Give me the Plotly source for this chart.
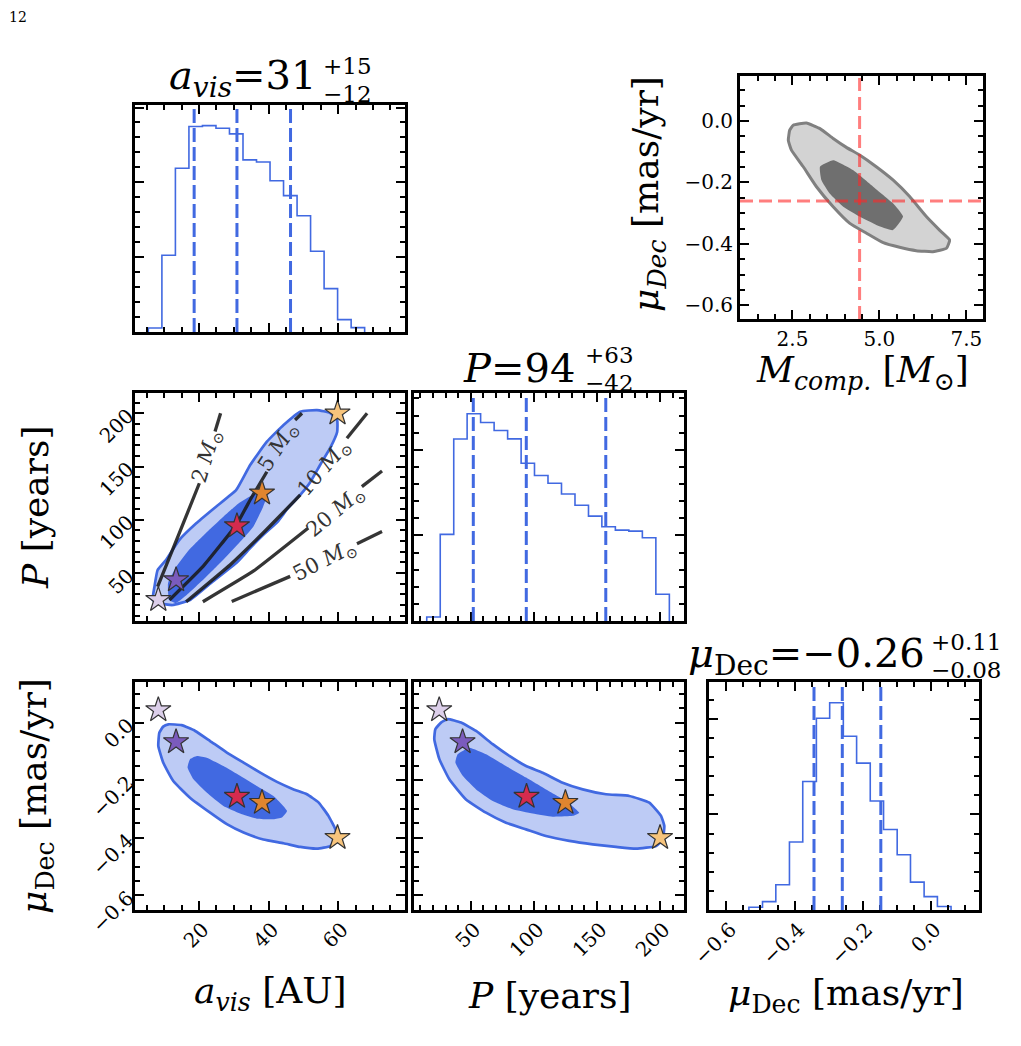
import plotly.graph_objects as go

W, H = 1021, 1046
FONT = "DejaVu Serif"
BLUE = "#4169e1"

# ---------------- data ----------------
# a_vis histogram (bin edges in AU, counts)
a_edges = [5.44, 9.33, 13.21, 17.10, 20.98, 24.87, 28.75, 32.64, 36.52, 40.41,
           44.29, 48.18, 52.06, 55.95, 59.83, 63.72, 67.60]
a_counts = [27, 513, 1094, 1373, 1379, 1362, 1324, 1150, 1136, 1011, 911, 777,
            540, 290, 83, 29]
a_quant = [18.6, 30.9, 46.3]

# P histogram (years)
P_edges = [15.1, 25.8, 36.5, 47.1, 57.8, 68.5, 79.2, 89.9, 100.5, 111.2, 121.9,
           132.6, 143.3, 153.9, 164.6, 175.3, 186.0, 196.7, 207.4]
P_counts = [23, 506, 1063, 1211, 1160, 1113, 1064, 922, 850, 805, 742, 676, 613,
            551, 531, 525, 486, 156]
P_quant = [52, 94, 157]

# mu_Dec histogram (mas/yr)
mu_edges = [-0.534, -0.494, -0.455, -0.415, -0.376, -0.336, -0.297, -0.257,
            -0.218, -0.178, -0.139, -0.099, -0.060, -0.020, 0.019, 0.059]
mu_counts = [14, 44, 132, 356, 672, 1003, 1084, 909, 768, 570, 421, 289, 146,
             70, 18]
mu_quant = [-0.343, -0.26, -0.147]

# highlighted solutions (stars)
star_a = [8.3, 13.4, 30.9, 38.1, 59.8]
star_P = [25, 43.5, 94.2, 125, 200]
star_mu = [0.044, -0.067, -0.257, -0.278, -0.400]
star_colors = ["#dccfea", "#7b5bbd", "#d42b4e", "#e0852f", "#f7c47c"]

# a_vis vs P contours
ml_out_a = [6.7, 7.2, 8.1, 10.5, 14.3, 19.2, 24.9, 30.7, 34.7, 39.5, 44.3, 49.1,
            53.9, 57.7, 59.7, 59.7, 57.7, 54.8, 52.0, 49.1, 45.6, 42.5, 38.4,
            34.7, 31.0, 23.8, 17.4, 12.4, 8.6]
ml_out_P = [24.7, 37.2, 52.9, 62.3, 81.0, 96.7, 112.3, 128.0, 151.4, 173.3,
            189.0, 201.5, 203.0, 200.2, 193.7, 182.4, 167.4, 151.4, 135.5, 123.3,
            111.1, 97.9, 85.7, 73.5, 60.4, 41.6, 24.7, 20.0, 21.6]
ml_in_a = [11.4, 11.1, 13.4, 17.1, 22.0, 26.9, 31.5, 36.4, 38.4, 39.6, 38.4,
           35.6, 31.5, 26.9, 22.0, 17.1, 13.4]
ml_in_P = [24.7, 40.7, 55.7, 71.6, 87.6, 102.6, 115.8, 125.2, 128.9, 123.3,
           112.0, 93.5, 78.2, 62.3, 46.3, 31.3, 21.9]

# mass curves in the a_vis-P plane (None = gap left for the label)
m2_a = [8.1, 14.1, 20.1, None, 24.6, 26.2]
m2_P = [37.2, 85.5, 134.3, None, 182.8, 200]
m5_a = [11.5, 21.1, 30.7, 35.0, 39.5, None, 47.6, 49.6]
m5_P = [24.7, 56.0, 95.1, 120.4, 145.1, None, 193.7, 200]
m10_a = [16.3, 28.9, 39.0, 49.1, None, 62.5, 68.3]
m10_P = [23.1, 57.6, 89.5, 123.3, None, 176.5, 200]
m20_a = [21.1, 35.7, 51.4, None, 66.8, 72.6]
m20_P = [23.1, 52.0, 92.3, None, 131.1, 145.8]
m50_a = [29.4, 46.2, None, 65.4, 72.6]
m50_P = [23.4, 46.9, None, 77.5, 89]
mass_labels = ["2", "5", "10", "20", "50"]
mass_lab_a = [22.2, 42.8, 56.1, 59.2, 56.0]
mass_lab_P = [159.2, 168.6, 148.3, 107.6, 61.6]
mass_lab_angle = [-73, -57, -49, -40, -27]

# a_vis vs mu_Dec contours
bl_out_a = [11.2, 15.0, 18.9, 23.2, 28.0, 32.8, 37.6, 42.4, 47.2, 51.0, 54.4,
            57.2, 59.2, 59.6, 57.7, 53.9, 49.1, 44.3, 38.5, 32.8, 28.0, 23.2,
            17.4, 12.6, 9.7, 8.3, 8.6, 9.7]
bl_out_mu = [-0.006, -0.009, -0.029, -0.064, -0.104, -0.139, -0.174, -0.206,
             -0.232, -0.249, -0.278, -0.324, -0.371, -0.400, -0.429, -0.438,
             -0.432, -0.419, -0.406, -0.382, -0.353, -0.313, -0.261, -0.203,
             -0.139, -0.081, -0.035, -0.014]
bl_in_a = [19.4, 22.2, 27.0, 31.8, 36.6, 41.4, 45.3, 43.8, 41.4, 36.6, 31.8,
           27.0, 22.2, 18.4, 16.7, 17.4]
bl_in_mu = [-0.116, -0.122, -0.151, -0.185, -0.220, -0.255, -0.307, -0.330,
            -0.336, -0.334, -0.316, -0.290, -0.243, -0.197, -0.156, -0.127]

# P vs mu_Dec contours
bm_out_P = [31.7, 42.3, 54.2, 67.4, 80.6, 93.8, 107.0, 122.8, 138.7, 157.2,
            175.7, 191.5, 200.8, 203.4, 202.1, 196.8, 180.9, 165.1, 146.6,
            128.1, 109.6, 93.8, 77.9, 62.1, 46.2, 33.0, 25.1, 21.1, 21.9, 26.4]
bm_out_mu = [0.012, 0.0, -0.029, -0.075, -0.116, -0.151, -0.174, -0.209, -0.232,
             -0.249, -0.255, -0.278, -0.324, -0.359, -0.406, -0.429, -0.438,
             -0.432, -0.423, -0.411, -0.394, -0.371, -0.348, -0.313, -0.267,
             -0.197, -0.127, -0.058, -0.023, 0.0]
bm_in_P = [39.6, 48.9, 62.1, 77.9, 93.8, 109.6, 125.5, 136.0, 130.8, 114.9,
           99.1, 83.2, 67.4, 54.2, 43.6, 37.8]
bm_in_mu = [-0.110, -0.087, -0.110, -0.151, -0.191, -0.232, -0.272, -0.313,
            -0.324, -0.327, -0.316, -0.301, -0.272, -0.232, -0.185, -0.139]

# companion mass vs mu_Dec contours (inset)
tr_out_M = [2.52, 2.90, 3.29, 3.67, 4.05, 4.43, 4.91, 5.39, 5.87, 6.35, 6.73,
            7.02, 6.93, 6.54, 6.06, 5.58, 5.11, 4.63, 4.15, 3.67, 3.19, 2.81,
            2.47, 2.38, 2.42]
tr_out_mu = [-0.014, -0.007, -0.025, -0.057, -0.086, -0.111, -0.149, -0.192,
             -0.246, -0.311, -0.355, -0.387, -0.414, -0.425, -0.422, -0.411,
             -0.396, -0.365, -0.333, -0.279, -0.214, -0.149, -0.095, -0.063,
             -0.030]
tr_in_M = [3.29, 3.67, 4.24, 4.82, 5.39, 5.68, 5.39, 4.91, 4.43, 3.96, 3.57, 3.33]
tr_in_mu = [-0.149, -0.128, -0.160, -0.214, -0.268, -0.311, -0.355, -0.338,
            -0.311, -0.279, -0.236, -0.192]
tr_best_M = 4.43
tr_best_mu = -0.26

# axis ranges
a_rng = [1.6, 79.2]
P_rng = [5.0, 219.0]
mu_rng = [-0.651, 0.141]
M_rng = [0.99, 7.98]
mu_rng_tr = [-0.644, 0.146]

# ---------------- figure ----------------
fig = go.Figure()


def closed(v):
    return list(v) + [v[0]]


def hist(edges, counts, xa, ya):
    xs = [edges[0]] + list(edges[:-1]) + [edges[-1], edges[-1]]
    ys = [0] + list(counts) + [counts[-1], 0]
    fig.add_trace(go.Scatter(x=xs, y=ys, mode="lines", line=dict(color=BLUE, width=1.6, shape="hv"),
                             xaxis=xa, yaxis=ya, showlegend=False, hoverinfo="skip"))


def region(x, y, xa, ya, fill, line=None, lw=0):
    fig.add_trace(go.Scatter(x=closed(x), y=closed(y), mode="lines", fill="toself", fillcolor=fill,
                             line=dict(color=line if line else fill, width=lw, shape="spline", smoothing=0.4),
                             xaxis=xa, yaxis=ya, showlegend=False, hoverinfo="skip"))


def stars(x, y, xa, ya):
    fig.add_trace(go.Scatter(x=x, y=y, mode="markers",
                             marker=dict(symbol="star", size=19, color=star_colors,
                                         line=dict(color="#333333", width=1.2)),
                             xaxis=xa, yaxis=ya, showlegend=False, hoverinfo="skip"))


LIGHT = "rgba(65,105,225,0.35)"

# histograms
hist(a_edges, a_counts, "x", "y")
hist(P_edges, P_counts, "x3", "y3")
hist(mu_edges, mu_counts, "x6", "y6")

# a vs P
region(ml_out_a, ml_out_P, "x2", "y2", LIGHT, BLUE, 2.7)
region(ml_in_a, ml_in_P, "x2", "y2", BLUE, None, 0)
for xs, ys in [(m2_a, m2_P), (m5_a, m5_P), (m10_a, m10_P), (m20_a, m20_P), (m50_a, m50_P)]:
    fig.add_trace(go.Scatter(x=xs, y=ys, mode="lines", connectgaps=False,
                             line=dict(color="rgba(25,25,25,0.88)", width=3.3, shape="spline", smoothing=0.3),
                             xaxis="x2", yaxis="y2", showlegend=False, hoverinfo="skip"))
stars(star_a, star_P, "x2", "y2")

# a vs mu
region(bl_out_a, bl_out_mu, "x4", "y4", LIGHT, BLUE, 2.7)
region(bl_in_a, bl_in_mu, "x4", "y4", BLUE, None, 0)
stars(star_a, star_mu, "x4", "y4")

# P vs mu
region(bm_out_P, bm_out_mu, "x5", "y5", LIGHT, BLUE, 2.7)
region(bm_in_P, bm_in_mu, "x5", "y5", BLUE, None, 0)
stars(star_P, star_mu, "x5", "y5")

# inset M vs mu
region(tr_out_M, tr_out_mu, "x7", "y7", "#d3d3d3", "#808080", 3)
region(tr_in_M, tr_in_mu, "x7", "y7", "#6f6f6f", None, 0)


def px_x(p):
    return p / W


def px_y(p):
    return 1 - p / H


def axis(dom, rng, anchor, dtick, mdtick, labels=False, angle=0, fmt=None, shift=0, standoff=0):
    d = dict(domain=dom, range=rng, anchor=anchor, showline=True, linecolor="black", linewidth=3,
             mirror="allticks", ticks="inside", ticklen=9, tickwidth=2, tickcolor="black",
             tick0=0, dtick=dtick, automargin=False,
             minor=dict(ticks="inside", ticklen=5, tickwidth=1.5, tickcolor="black", tick0=0,
                        dtick=mdtick, showgrid=False),
             showgrid=False, zeroline=False, showticklabels=labels,
             tickfont=dict(family=FONT, size=20, color="black"), tickangle=angle,
             ticklabelshift=shift, ticklabelstandoff=standoff)
    if fmt:
        d["tickformat"] = fmt
    return d


col1 = [px_x(135), px_x(405)]
col2 = [px_x(414), px_x(684)]
col3 = [px_x(709), px_x(979)]
row1 = [px_y(332), px_y(105)]
row2 = [px_y(621), px_y(393)]
row3 = [px_y(910), px_y(682)]
trx = [px_x(740), px_x(983)]
tr_y = [px_y(319), px_y(76)]

layout = dict(
    template="none",
    width=W, height=H, margin=dict(l=0, r=0, t=0, b=0, pad=0, autoexpand=False),
    paper_bgcolor="white", plot_bgcolor="white", showlegend=False,
    xaxis=axis(col1, a_rng, "y", 20, 5),
    yaxis=axis(row1, [0, 1.1 * max(a_counts)], "x", 500, 100),
    xaxis2=axis(col1, a_rng, "y2", 20, 5),
    yaxis2=axis(row2, P_rng, "x2", 50, 10, True, -45),
    xaxis3=axis(col2, P_rng, "y3", 50, 10),
    yaxis3=axis(row2, [0, 1.1 * max(P_counts)], "x3", 500, 100),
    xaxis4=axis(col1, a_rng, "y4", 20, 5, True, -45, None, 4, -3),
    yaxis4=axis(row3, mu_rng, "x4", 0.2, 0.05, True, -45, ".1f"),
    xaxis5=axis(col2, P_rng, "y5", 50, 10, True, -45, None, 4, -3),
    yaxis5=axis(row3, mu_rng, "x5", 0.2, 0.05),
    xaxis6=axis(col3, mu_rng, "y6", 0.2, 0.05, True, -45, ".1f", 4, -3),
    yaxis6=axis(row3, [0, 1.1 * max(mu_counts)], "x6", 500, 100),
    xaxis7=axis(trx, M_rng, "y7", 2.5, 0.5, True, 0, ".1f"),
    yaxis7=axis(tr_y, mu_rng_tr, "x7", 0.2, 0.05, True, 0, ".1f"),
)
fig.update_layout(**layout)

# dashed quantile / truth lines
shapes = []
QDASH = dict(color=BLUE, width=3, dash="14px,5px")
for q in a_quant:
    shapes.append(dict(type="line", xref="x", yref="y domain", x0=q, x1=q, y0=0, y1=1, line=QDASH))
for q in P_quant:
    shapes.append(dict(type="line", xref="x3", yref="y3 domain", x0=q, x1=q, y0=0, y1=1, line=QDASH))
for q in mu_quant:
    shapes.append(dict(type="line", xref="x6", yref="y6 domain", x0=q, x1=q, y0=0, y1=1, line=QDASH))
RDASH = dict(color="rgba(255,40,40,0.6)", width=3, dash="13px,6px")
shapes.append(dict(type="line", xref="x7", yref="y7 domain", x0=tr_best_M, x1=tr_best_M, y0=0, y1=1,
                   line=RDASH))
shapes.append(dict(type="line", xref="x7 domain", yref="y7", x0=0, x1=1, y0=tr_best_mu, y1=tr_best_mu,
                   line=RDASH))
fig.update_layout(shapes=shapes)

ann = []


def text(x, y, s, size, angle=0, xanchor="center", yanchor="middle", color="black"):
    ann.append(dict(x=px_x(x), y=px_y(y), xref="paper", yref="paper", text=s, showarrow=False,
                    textangle=angle, xanchor=xanchor, yanchor=yanchor,
                    font=dict(family=FONT, size=size, color=color)))


# page number
text(7, 17, "12", 14, xanchor="left")

# axis labels
LAB = 36
text(35, 507, "<i>P</i> [years]", LAB, -90)
text(36, 796, "<i>μ</i><sub>Dec</sub> [mas/yr]", LAB, -90)
text(270, 993, "<i>a</i><sub><i>vis</i></sub> [AU]", LAB)
text(550, 995, "<i>P</i> [years]", LAB)
text(846, 995, "<i>μ</i><sub>Dec</sub> [mas/yr]", LAB)
text(648, 194, "<i>μ</i><sub><i>Dec</i></sub> [mas/yr]", LAB, -90)
text(862, 373, "<i>M</i><sub><i>comp.</i></sub> [<i>M</i><sub>⊙</sub>]", LAB)

# titles (value with stacked upper / lower errors)
TT = 40
SS = 23
text(318, 78, "<i>a</i><sub><i>vis</i></sub>=31", TT, xanchor="right")
text(321, 66, "+15", SS, xanchor="left")
text(321, 94, "−12", SS, xanchor="left")
text(577, 368, "<i>P</i>=94", TT, xanchor="right")
text(583, 355, "+63", SS, xanchor="left")
text(583, 383, "−42", SS, xanchor="left")
text(927, 656, "<i>μ</i><sub>Dec</sub>=−0.26", TT, xanchor="right")
text(929, 642, "+0.11", SS, xanchor="left")
text(929, 670, "−0.08", SS, xanchor="left")

# mass-curve labels
for lab, x, y, ang in zip(mass_labels, mass_lab_a, mass_lab_P, mass_lab_angle):
    ann.append(dict(x=x, y=y, xref="x2", yref="y2", text=lab + " <i>M</i><sub>⊙</sub>", showarrow=False,
                    textangle=ang, font=dict(family=FONT, size=21, color="#333333")))

fig.update_layout(annotations=ann)
fig.write_html("out.html")
